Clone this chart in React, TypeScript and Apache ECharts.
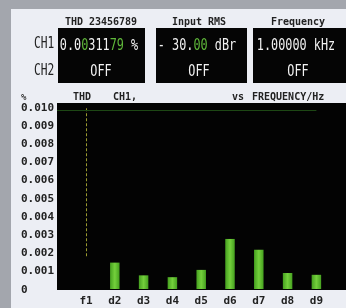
import React, { useEffect, useRef } from "react";
import * as echarts from "echarts";

const categories = ["f1", "d2", "d3", "d4", "d5", "d6", "d7", "d8", "d9"];
const harmonicValues = [null, 0.00145, 0.00075, 0.00065, 0.00105, 0.00275, 0.00215, 0.00088, 0.00078];
const fundamentalLine = [0.0018, 0.01];
const topLine = 0.0098;
const yTicks = { min: 0, max: 0.01, interval: 0.001 };
const headerTexts = ["THD 23456789", "Input RMS", "Frequency"];
const ch1Readings = [
  "{w|0.0}{g|0}{w|311}{g|79}{w| %}",
  "{w|- 30.}{g|00}{w| dBr}",
  "{w|1.00000 kHz}",
];
const ch2Readings = ["OFF", "OFF", "OFF"];

const MONO = "'DejaVu Sans Mono', 'Liberation Mono', monospace";

export default function App() {
  const ref = useRef<HTMLDivElement>(null);
  useEffect(() => {
    if (!ref.current) return;
    const chart = echarts.init(ref.current, null, { renderer: "svg" });
    const boxes = [
      { x: 58, w: 87, cx: 101 },
      { x: 156, w: 91, cx: 199 },
      { x: 253, w: 95, cx: 298 },
    ];
    const richW = { fill: "#f2f2f2", font: `16px ${MONO}` };
    const richG = { fill: "#5fb83a", font: `16px ${MONO}` };
    const graphics: any[] = [
      { type: "rect", z: -10, shape: { x: 0, y: 0, width: 346, height: 308 }, style: { fill: "#eceef4" } },
      { type: "rect", z: -9, shape: { x: 0, y: 0, width: 11, height: 308 }, style: { fill: "#a3a6ad" } },
      { type: "rect", z: -9, shape: { x: 0, y: 0, width: 346, height: 9 }, style: { fill: "#a3a6ad" } },
      { type: "rect", z: -8, shape: { x: 57, y: 103, width: 289, height: 187 }, style: { fill: "#030303" } },
      { type: "text", x: 34, y: 43, scaleX: 0.75, style: { text: "CH1", fill: "#222", font: `15px ${MONO}`, textVerticalAlign: "middle" } },
      { type: "text", x: 34, y: 70, scaleX: 0.75, style: { text: "CH2", fill: "#222", font: `15px ${MONO}`, textVerticalAlign: "middle" } },
      { type: "text", x: 21, y: 97, style: { text: "%", fill: "#333", font: `bold 9px ${MONO}`, textVerticalAlign: "middle" } },
      { type: "text", x: 73, y: 96, style: { text: "THD", fill: "#222", font: `bold 10px ${MONO}`, textVerticalAlign: "middle" } },
      { type: "text", x: 113, y: 96, style: { text: "CH1,", fill: "#222", font: `bold 10px ${MONO}`, textVerticalAlign: "middle" } },
      { type: "text", x: 232, y: 96, style: { text: "vs", fill: "#222", font: `bold 10px ${MONO}`, textVerticalAlign: "middle" } },
      { type: "text", x: 252, y: 96, style: { text: "FREQUENCY/Hz", fill: "#222", font: `bold 10px ${MONO}`, textVerticalAlign: "middle" } },
    ];
    boxes.forEach((b, i) => {
      graphics.push({ type: "rect", z: -7, shape: { x: b.x, y: 28, width: b.w, height: 55 }, style: { fill: "#050505" } });
      graphics.push({
        type: "text", x: b.cx, y: 21,
        style: { text: headerTexts[i], fill: "#222", font: `bold 10px ${MONO}`, textAlign: "center", textVerticalAlign: "middle" },
      });
      graphics.push({
        type: "text", x: b.cx - 2, y: 44, scaleX: 0.74,
        style: { text: ch1Readings[i], rich: { w: richW, g: richG }, fill: "#f2f2f2", font: `16px ${MONO}`, textAlign: "center", textVerticalAlign: "middle" },
      });
      graphics.push({
        type: "text", x: b.cx, y: 70, scaleX: 0.74,
        style: { text: ch2Readings[i], fill: "#f2f2f2", font: `16px ${MONO}`, textAlign: "center", textVerticalAlign: "middle" },
      });
    });

    chart.setOption({
      animation: false,
      graphic: graphics,
      grid: { left: 71.6, top: 107, width: 259.2, bottom: 19 },
      xAxis: {
        type: "category",
        data: categories,
        axisLine: { show: false },
        axisTick: { show: false },
        axisLabel: { color: "#222", fontFamily: MONO, fontWeight: "bold", fontSize: 11, margin: 6 },
      },
      yAxis: {
        type: "value",
        min: yTicks.min,
        max: yTicks.max,
        interval: yTicks.interval,
        axisLine: { show: false },
        axisTick: { show: false },
        splitLine: { show: false },
        axisLabel: {
          color: "#222",
          fontFamily: MONO,
          fontWeight: "bold",
          fontSize: 11,
          align: "left",
          margin: 50.6,
          formatter: (v: number) => (v === 0 ? "0" : v.toFixed(3)),
        },
      },
      series: [
        {
          type: "bar",
          data: harmonicValues,
          barWidth: 9.5,
          itemStyle: {
            color: new echarts.graphic.LinearGradient(0, 0, 1, 0, [
              { offset: 0, color: "#45a01f" },
              { offset: 0.5, color: "#74d03c" },
              { offset: 1, color: "#45a01f" },
            ]),
          },
          markLine: {
            silent: true,
            symbol: "none",
            label: { show: false },
            data: [
              [
                { xAxis: "f1", yAxis: fundamentalLine[0], lineStyle: { color: "#9a9a30", type: [3, 2], width: 1 } },
                { xAxis: "f1", yAxis: fundamentalLine[1] },
              ],
              [
                { xAxis: "f1", yAxis: topLine, x: 57, lineStyle: { color: "#1d4714", type: "solid", width: 1 } },
                { xAxis: "d9", yAxis: topLine },
              ],
            ],
          },
        },
      ],
    });
    return () => chart.dispose();
  }, []);
  return <div ref={ref} style={{ position: "fixed", left: 0, top: 0, width: 346, height: 308 }} />;
}
